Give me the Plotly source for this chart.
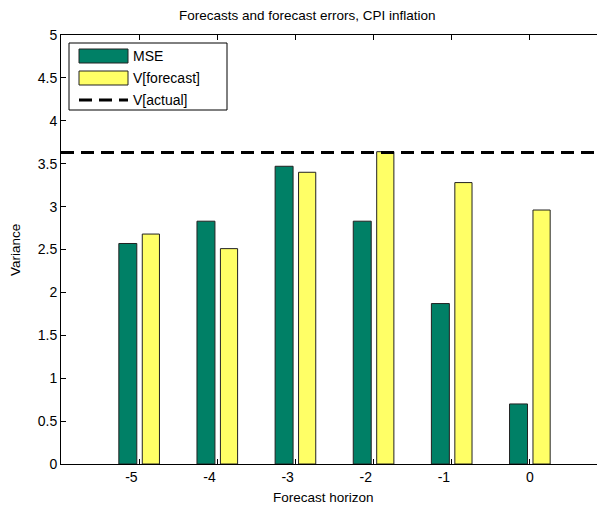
import plotly.graph_objects as go

# ---- data ----
horizons = [-5, -4, -3, -2, -1, 0]
mse = [2.57, 2.83, 3.47, 2.83, 1.87, 0.70]
v_forecast = [2.68, 2.51, 3.40, 3.64, 3.28, 2.96]
v_actual = 3.63
y_ticks = [0, 0.5, 1, 1.5, 2, 2.5, 3, 3.5, 4, 4.5, 5]
y_tick_labels = ["0", "0.5", "1", "1.5", "2", "2.5", "3", "3.5", "4", "4.5", "5"]
x_tick_labels = ["-5", "-4", "-3", "-2", "-1", "0"]

GREEN = "#008066"
YELLOW = "#FFFF66"
FONT = "Liberation Sans, Arial, sans-serif"

OFF = 8  # page body margin
W, H = 605, 505
L, R, T, B = 53, 5, 27, 49
PW = W - L - R
PH = H - T - B


def px(x):
    return (x - OFF - L) / PW


def py(y):
    return (H - B - (y - OFF)) / PH


# negative labels in the reference sit a little left of their tick
x_tick_text = [t + "\u00a0\u00a0\u00a0\u00a0" if t.startswith("-") else t for t in x_tick_labels]

fig = go.Figure()
fig.add_trace(go.Bar(
    x=horizons, y=mse, name="MSE", width=0.23, offset=-0.26,
    marker=dict(color=GREEN, line=dict(color="#222222", width=1)),
    showlegend=False,
))
fig.add_trace(go.Bar(
    x=horizons, y=v_forecast, name="V[forecast]", width=0.22, offset=0.04,
    marker=dict(color=YELLOW, line=dict(color="#222222", width=1)),
    showlegend=False,
))
fig.add_trace(go.Scatter(
    x=[-6, 1], y=[v_actual, v_actual], mode="lines", name="V[actual]",
    line=dict(color="black", width=3, dash="13px,7px"),
    showlegend=False,
))

shapes = []
annotations = []
# legend box
shapes.append(dict(type="rect", xref="paper", yref="paper",
                   x0=px(69), x1=px(227), y0=py(110), y1=py(43),
                   line=dict(color="black", width=1), fillcolor="white", layer="above"))
# swatches
shapes.append(dict(type="rect", xref="paper", yref="paper",
                   x0=px(79), x1=px(128), y0=py(63), y1=py(49),
                   line=dict(color="#222222", width=1), fillcolor=GREEN, layer="above"))
shapes.append(dict(type="rect", xref="paper", yref="paper",
                   x0=px(79), x1=px(128), y0=py(85), y1=py(71),
                   line=dict(color="#222222", width=1), fillcolor=YELLOW, layer="above"))
shapes.append(dict(type="line", xref="paper", yref="paper",
                   x0=px(79), x1=px(128), y0=py(100), y1=py(100),
                   line=dict(color="black", width=3, dash="13px,7px"), layer="above"))
for label, yc in [("MSE", 56), ("V[forecast]", 78), ("V[actual]", 100)]:
    annotations.append(dict(text=label, xref="paper", yref="paper", x=px(131), y=py(yc),
                            xanchor="left", yanchor="middle", showarrow=False,
                            font=dict(family=FONT, size=14, color="black")))

# title and axis labels
annotations.append(dict(text="Forecasts and forecast errors, CPI inflation", xref="paper", yref="paper",
                        x=px(307), y=py(15), xanchor="center", yanchor="middle", showarrow=False,
                        font=dict(family=FONT, size=13.5, color="black")))
annotations.append(dict(text="Forecast horizon", xref="paper", yref="paper",
                        x=px(323), y=py(497), xanchor="center", yanchor="middle", showarrow=False,
                        font=dict(family=FONT, size=13.5, color="black")))
annotations.append(dict(text="Variance", xref="paper", yref="paper", textangle=-90,
                        x=px(15), y=py(250), xanchor="center", yanchor="middle", showarrow=False,
                        font=dict(family=FONT, size=13.5, color="black")))

fig.update_layout(
    width=W, height=H,
    margin=dict(l=L, r=R, t=T, b=B, pad=0),
    paper_bgcolor="white", plot_bgcolor="white",
    barmode="overlay",
    shapes=shapes, annotations=annotations,
    showlegend=False,
    font=dict(family=FONT, size=14, color="black"),
)
fig.update_xaxes(
    range=[-6, 1], tickmode="array", tickvals=horizons, ticktext=x_tick_text,
    ticks="inside", ticklen=5, tickcolor="black", tickwidth=1,
    showline=True, linecolor="black", linewidth=1, mirror="ticks",
    showgrid=False, zeroline=False, automargin=False,
    tickfont=dict(family=FONT, size=14, color="black"),
)
fig.update_yaxes(
    range=[0, 5], tickmode="array", tickvals=y_ticks, ticktext=y_tick_labels,
    ticks="inside", ticklen=5, tickcolor="black", tickwidth=1,
    showline=True, linecolor="black", linewidth=1, mirror="ticks",
    showgrid=False, zeroline=False, automargin=False,
    tickfont=dict(family=FONT, size=14, color="black"),
)

fig.write_html("out.html")
